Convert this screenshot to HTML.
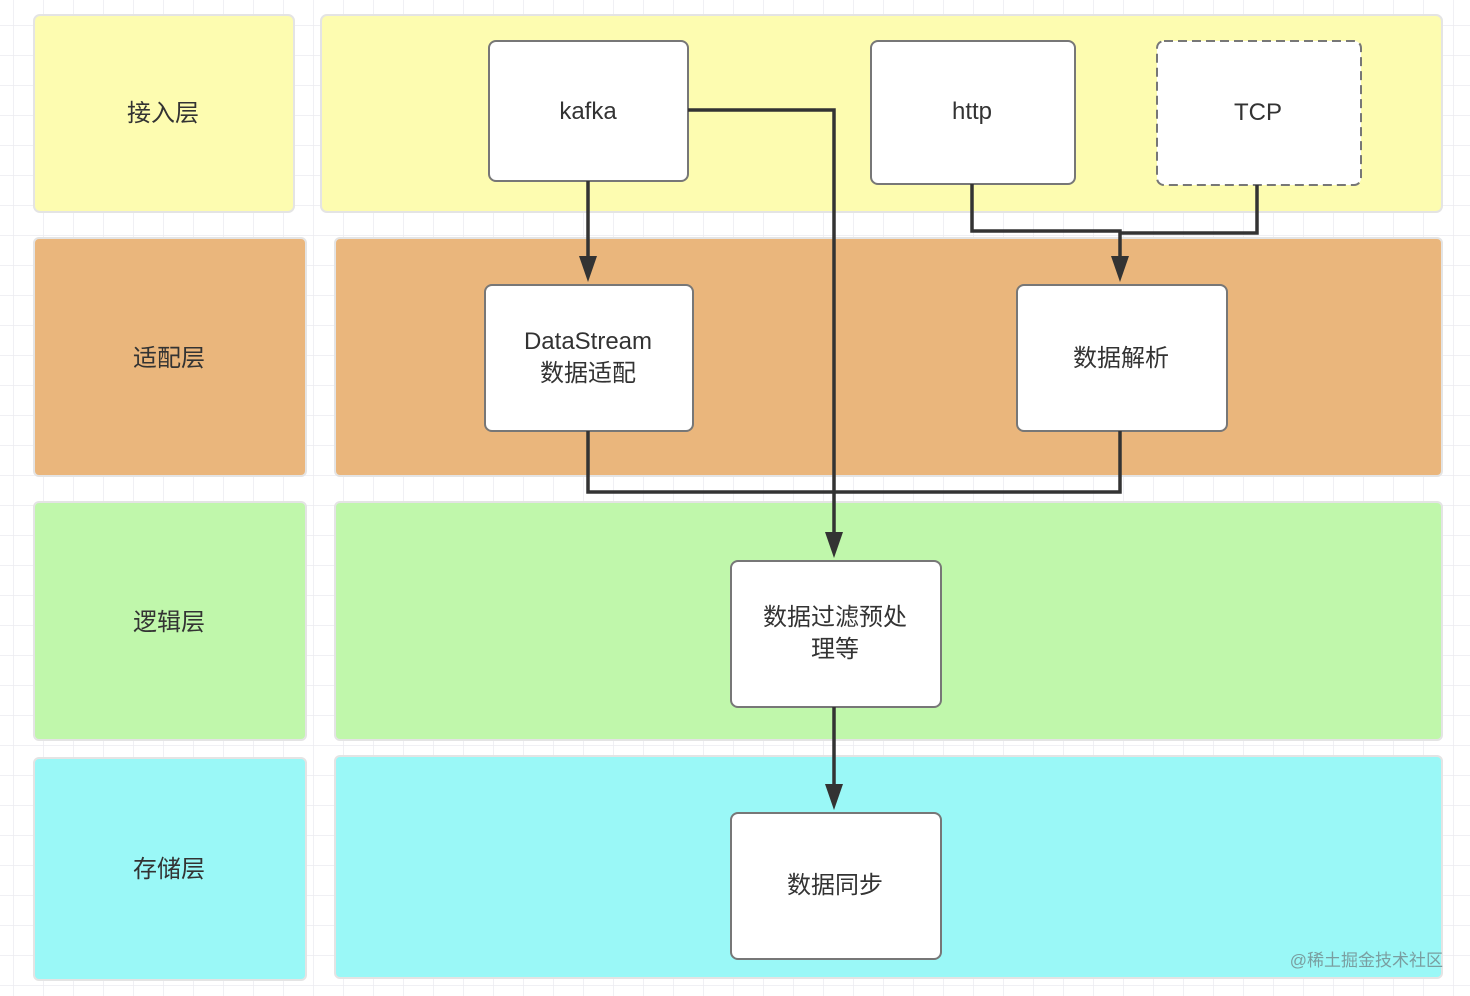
<!DOCTYPE html>
<html><head><meta charset="utf-8">
<style>
html,body{margin:0;padding:0;background:#fff;}
svg{display:block;}
text{font-family:"Liberation Sans","Noto Sans CJK SC",sans-serif;fill:#333;}
</style></head>
<body>
<svg width="1470" height="996" viewBox="0 0 1470 996" xmlns="http://www.w3.org/2000/svg">
<defs>
<pattern id="g" x="13" y="-5" width="30" height="30" patternUnits="userSpaceOnUse">
<path d="M0 0V30M0 0H30" stroke="#ececf0" stroke-width="1.5" fill="none"/>
</pattern>
<marker id="a" markerWidth="18" markerHeight="26" refX="9" refY="26" orient="auto-start-reverse" markerUnits="userSpaceOnUse" viewBox="0 0 18 26">
</marker>
</defs>
<rect width="1470" height="996" fill="url(#g)"/>
<g stroke="#e4e4e4" stroke-width="2">
<rect x="34" y="15" width="260" height="197" rx="6" fill="#fdfcb0"/>
<rect x="321" y="15" width="1121" height="197" rx="6" fill="#fdfcb0"/>
<rect x="34" y="238" width="272" height="238" rx="5" fill="#eab67c"/>
<rect x="335" y="238" width="1107" height="238" rx="5" fill="#eab67c"/>
<rect x="34" y="502" width="272" height="238" rx="5" fill="#c0f7ab"/>
<rect x="335" y="502" width="1107" height="238" rx="5" fill="#c0f7ab"/>
<rect x="34" y="758" width="272" height="222" rx="5" fill="#9af8f7"/>
<rect x="335" y="756" width="1107" height="222" rx="5" fill="#9af8f7"/>
</g>
<g font-size="24" text-anchor="middle">
<text x="163" y="121">接入层</text>
<text x="169" y="366">适配层</text>
<text x="169" y="630">逻辑层</text>
<text x="169" y="877">存储层</text>
</g>
<g fill="#fff" stroke="#777" stroke-width="2">
<rect x="489" y="41" width="199" height="140" rx="7"/>
<rect x="871" y="41" width="204" height="143" rx="7"/>
<rect x="1157" y="41" width="204" height="144" rx="7" stroke-dasharray="9,5"/>
<rect x="485" y="285" width="208" height="146" rx="7"/>
<rect x="1017" y="285" width="210" height="146" rx="7"/>
<rect x="731" y="561" width="210" height="146" rx="7"/>
<rect x="731" y="813" width="210" height="146" rx="7"/>
</g>
<g font-size="24" text-anchor="middle">
<text x="588" y="119">kafka</text>
<text x="972" y="119">http</text>
<text x="1258" y="120">TCP</text>
<text x="588" y="349">DataStream</text>
<text x="588" y="381">数据适配</text>
<text x="1121" y="366">数据解析</text>
<text x="835" y="625">数据过滤预处</text>
<text x="835" y="657">理等</text>
<text x="835" y="893">数据同步</text>
</g>
<g stroke="#333" stroke-width="3.5" fill="none">
<path d="M588 181V258"/>
<path d="M688 110H834V534"/>
<path d="M972 184V231H1120V258"/>
<path d="M1257 185V233H1120"/>
<path d="M588 431V492H1120V431"/>
<path d="M834 707V784"/>
</g>
<g fill="#333">
<polygon points="579,256 597,256 588,282"/>
<polygon points="825,532 843,532 834,558"/>
<polygon points="1111,256 1129,256 1120,282"/>
<polygon points="825,784 843,784 834,810"/>
</g>
<text x="1443" y="966" font-size="17" text-anchor="end" style="fill:#7a9ea0">@稀土掘金技术社区</text>
</svg>
</body></html>
